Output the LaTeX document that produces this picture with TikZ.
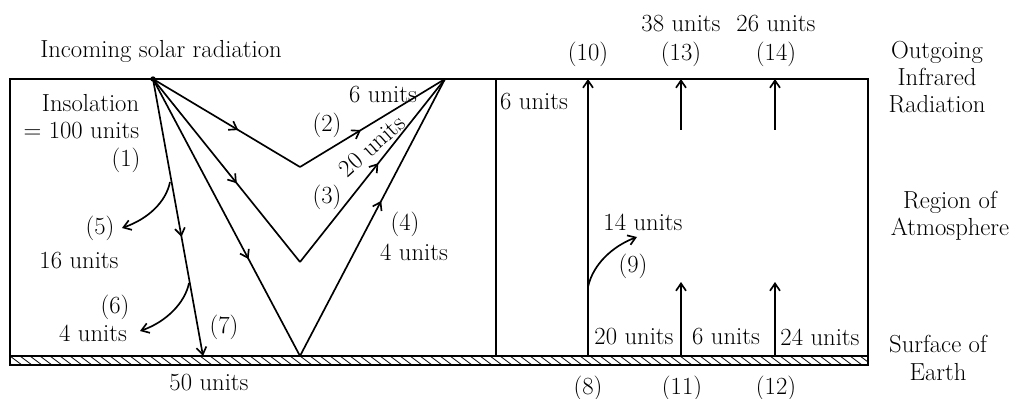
\documentclass[tikz,border=0pt]{standalone}
\usetikzlibrary{arrows.meta,decorations.markings}
\begin{document}
\begin{tikzpicture}[x=0.75pt,y=-0.75pt,line width=1.25pt,
  tipend/.style={-{Straight Barb[length=5.5pt,width=7.5pt]}},
  lbl/.style={font=\fontsize{18.5}{20.5}\selectfont,inner sep=0pt,align=center},
  midarrow/.style={postaction={decorate},decoration={markings,mark=at position #1 with {\arrow{Straight Barb[length=5.5pt,width=7.5pt]}}}}]
\useasboundingbox (0,0) rectangle (1025,399);
% frame
\coordinate (bl) at (10,356);
\coordinate (tl) at (10,79);
\coordinate (mid) at (496,79);
\coordinate (midb) at (496,356);
\coordinate (tr) at (868,79);
\coordinate (gb) at (868,365);
\draw[line width=1.4pt] (bl) rectangle (mid);
\draw[line width=1.4pt] (midb) rectangle (tr);
\begin{scope}
\clip (10,356) rectangle (868,365);
\foreach \x in {0,10,...,880} \draw[line width=0.6pt] (\x,356) -- (\x+12,365);
\end{scope}
\draw[line width=1.4pt] (bl) rectangle (gb);
% left panel points
\coordinate (src) at (153,79);
\coordinate (apex) at (445,79);
\coordinate (b2) at (300,167);
\coordinate (b3) at (300,262);
\coordinate (b4) at (300,356);
\coordinate (g7) at (203,356);
\fill (src) circle (2pt);
\draw[midarrow=0.58] (src) -- (b2);
\draw[midarrow=0.42] (b2) -- (apex);
\draw[midarrow=0.57] (src) -- (b3);
\draw[midarrow=0.54] (b3) -- (apex);
\draw[midarrow=0.65] (src) -- (b4);
\draw[midarrow=0.56] (b4) -- (apex);
\draw[tipend,midarrow=0.57] (src) -- (g7);
\coordinate (s5) at (170,182);
\coordinate (e5) at (122,228);
\draw[tipend] (s5) .. controls (166,202) and (148,219) .. (e5);
\coordinate (s6) at (189,283);
\coordinate (e6) at (140,331);
\draw[tipend] (s6) .. controls (185,303) and (166,322) .. (e6);
% right panel
\coordinate (g8) at (588,356);
\coordinate (t10) at (588,79);
\draw[tipend] (g8) -- (t10);
\coordinate (s9) at (588,287);
\coordinate (e9) at (637,237);
\draw[tipend] (s9) .. controls (593,264) and (613,246) .. (e9);
\coordinate (b13) at (681,130);
\coordinate (t13) at (681,79);
\draw[tipend] (b13) -- (t13);
\coordinate (b14) at (775,130);
\coordinate (t14) at (775,79);
\draw[tipend] (b14) -- (t14);
\coordinate (g11) at (681,356);
\coordinate (t11) at (681,282);
\draw[tipend] (g11) -- (t11);
\coordinate (g12) at (775,356);
\coordinate (t12) at (775,282);
\draw[tipend] (g12) -- (t12);
% labels left
\node[lbl] (title) at (161,51) {Incoming solar radiation};
\node[lbl,anchor=east] (ins1) at (140,103) {Insolation};
\node[lbl,anchor=east] (ins2) at (140,131) {= 100 units};
\node[lbl] (l1) at (126,160) {(1)};
\node[lbl] (u6) at (383,95) {6 units};
\node[lbl] (l2) at (327,125) {(2)};
\node[lbl,rotate=42] (u20) at (372,146) {20 units};
\node[lbl] (l3) at (327,197) {(3)};
\node[lbl] (l4) at (405,224) {(4)};
\node[lbl] (u4) at (414,252) {4 units};
\node[lbl] (l5) at (100,228) {(5)};
\node[lbl] (u16) at (79,261) {16 units};
\node[lbl] (l6) at (115,307) {(6)};
\node[lbl] (u4b) at (93,333) {4 units};
\node[lbl] (l7) at (224,327) {(7)};
\node[lbl] (u50) at (209,383) {50 units};
% labels right
\node[lbl] (u6b) at (534,102) {6 units};
\node[lbl] (l10) at (588,54) {(10)};
\node[lbl] (l13) at (681,54) {(13)};
\node[lbl] (u38) at (681,24) {38 units};
\node[lbl] (l14) at (776,54) {(14)};
\node[lbl] (u26) at (776,24) {26 units};
\node[lbl] (u14) at (643,222) {14 units};
\node[lbl] (l9) at (633,266) {(9)};
\node[lbl] (u20b) at (634,337) {20 units};
\node[lbl] (u6c) at (726,337) {6 units};
\node[lbl] (u24) at (820,337) {24 units};
\node[lbl] (l8) at (588,388) {(8)};
\node[lbl] (l11) at (682,388) {(11)};
\node[lbl] (l12) at (776,388) {(12)};
\node[lbl] (outg) at (937,77) {Outgoing\\Infrared\\Radiation};
\node[lbl] (regn) at (950,216) {Region of\\Atmosphere};
\node[lbl] (surf) at (938,358) {Surface of\\Earth};
\end{tikzpicture}
\end{document}
